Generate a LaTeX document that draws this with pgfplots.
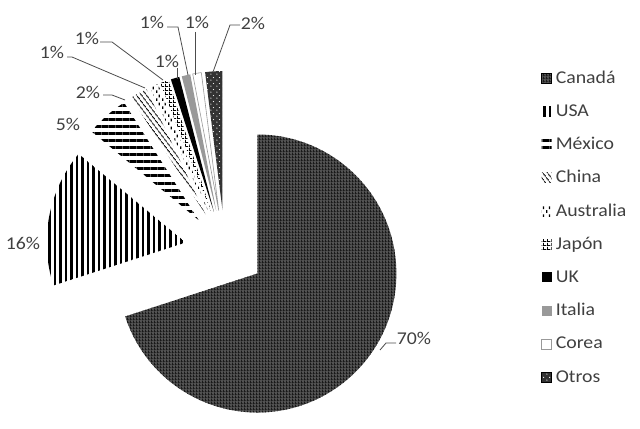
\documentclass[border=0pt]{standalone}
\usepackage{pgfplots}
\pgfplotsset{compat=1.18}
\usepackage{pgfplotstable}
\usetikzlibrary{patterns,patterns.meta}
\usepackage{fontspec}
\setmainfont{Carlito}[FakeStretch=1.1]

% share of each country, clockwise from 12 o'clock
\pgfplotstableread[col sep=comma]{
name,pct
Canada,70
USA,16
Mexico,5
China,2
Australia,1
Japon,1
UK,1
Italia,1
Corea,1
Otros,2
}\piedata

\pgfdeclarepattern{name=vdashes, type=uncolored,
  bottom left={\pgfpoint{0bp}{0bp}}, top right={\pgfpoint{6bp}{8bp}},
  tile size={\pgfpoint{6bp}{8bp}},
  code={\pgfpathrectangle{\pgfpoint{0bp}{0bp}}{\pgfpoint{1.5bp}{3bp}}
        \pgfpathrectangle{\pgfpoint{3bp}{4bp}}{\pgfpoint{1.5bp}{3bp}}
        \pgfusepath{fill}}}
\pgfdeclarepattern{name=smallgrid, type=uncolored,
  bottom left={\pgfpoint{0bp}{0bp}}, top right={\pgfpoint{3.5bp}{3.5bp}},
  tile size={\pgfpoint{3.5bp}{3.5bp}},
  code={\pgfpathrectangle{\pgfpoint{0bp}{0bp}}{\pgfpoint{3.5bp}{1bp}}
        \pgfpathrectangle{\pgfpoint{0bp}{0bp}}{\pgfpoint{1bp}{3.5bp}}
        \pgfusepath{fill}}}
\pgfdeclarepattern{name=finegrid, type=uncolored,
  bottom left={\pgfpoint{0bp}{0bp}}, top right={\pgfpoint{2.6bp}{2.6bp}},
  tile size={\pgfpoint{2.6bp}{2.6bp}},
  code={\pgfpathrectangle{\pgfpoint{0bp}{0bp}}{\pgfpoint{2.6bp}{0.7bp}}
        \pgfpathrectangle{\pgfpoint{0bp}{0bp}}{\pgfpoint{0.9bp}{2.6bp}}
        \pgfusepath{fill}}}
\pgfdeclarepattern{name=sparsedots, type=uncolored,
  bottom left={\pgfpoint{0bp}{0bp}}, top right={\pgfpoint{6bp}{6bp}},
  tile size={\pgfpoint{6bp}{6bp}},
  code={\pgfpathcircle{\pgfpoint{1bp}{1bp}}{0.7bp}
        \pgfpathcircle{\pgfpoint{4bp}{4bp}}{0.7bp}
        \pgfusepath{fill}}}

\tikzset{
  slice0/.style={fill=black!68, postaction={pattern color=black!90, pattern=finegrid}},
  slice1/.style={pattern={Lines[distance=5.5bp, line width=2.5bp, angle=90]}},
  slice2/.style={pattern={Lines[distance=7bp, line width=3bp, angle=0]}},
  slice3/.style={pattern={Lines[distance=3.6bp, line width=1bp, angle=-53]}},
  slice4/.style={pattern=vdashes},
  slice5/.style={pattern=smallgrid},
  slice6/.style={fill=black},
  slice7/.style={fill=black!40},
  slice8/.style={fill=white, postaction={draw=black!40, line width=0.6bp}},
  slice9/.style={fill=black!80, postaction={pattern color=white, pattern=sparsedots}},
  pct/.style={text=black!75, font=\fontsize{18bp}{21bp}\selectfont, inner sep=0pt},
  lead/.style={draw=black!70, line width=0.8bp},
}

\begin{document}
\begin{tikzpicture}
\begin{axis}[
    x=1bp, y=1bp,
    xmin=0, xmax=640, ymin=0, ymax=428,
    hide axis,
    clip=false,
    legend cell align=left,
    legend image code/.code={\path[#1, draw=none] (0bp,-4bp) rectangle (10bp,6bp);},
    legend style={at={(axis cs:541,358)}, anchor=north west, draw=none,
        fill=none, inner sep=0pt, row sep=15.2bp, column sep=3bp,
        font=\fontsize{18bp}{21bp}\selectfont, text=black!75,
        nodes={inner sep=1bp, text height=12bp, text depth=4bp}},
]
\addlegendimage{slice0}\addlegendentry{Canadá}
\addlegendimage{slice1}\addlegendentry{USA}
\addlegendimage{slice2}\addlegendentry{México}
\addlegendimage{slice3}\addlegendentry{China}
\addlegendimage{slice4}\addlegendentry{Australia}
\addlegendimage{slice5}\addlegendentry{Japón}
\addlegendimage{slice6}\addlegendentry{UK}
\addlegendimage{slice7}\addlegendentry{Italia}
\addlegendimage{slice8}\addlegendentry{Corea}
\addlegendimage{slice9}\addlegendentry{Otros}

% exploded pie: centre (225,178), radius 139, explosion 40
\pgfplotsextra{
  \path (axis cs:0,0) rectangle (axis cs:640,428);
  \gdef\startang{90}
  \pgfplotsforeachungrouped \i in {0,...,9}{%
    \pgfplotstablegetelem{\i}{pct}\of\piedata
    \pgfmathsetmacro\sweep{3.6*\pgfplotsretval}
    \pgfmathsetmacro\endang{\startang-\sweep}
    \pgfmathsetmacro\midang{\startang-\sweep/2}
    \pgfmathsetmacro\vx{225+40*cos(\midang)}
    \pgfmathsetmacro\vy{178+40*sin(\midang)}
    \edef\doslice{\noexpand\path[slice\i] (axis cs:\vx,\vy)
      -- ++(\startang:139bp)
      arc[start angle=\startang, end angle=\endang, radius=139bp] -- cycle;}
    \doslice
    \xdef\startang{\endang}
  }
  % percentage labels and leader lines
  \node[pct] at (axis cs:414,90) {70\%};
  \draw[lead] (axis cs:396,85) -- (axis cs:386,85) -- (axis cs:380,78);
  \node[pct] at (axis cs:23,185) {16\%};
  \node[pct] at (axis cs:68,304) {5\%};
  \node[pct] at (axis cs:88,336) {2\%};
  \draw[lead] (axis cs:103,333) -- (axis cs:112,333) -- (axis cs:125,328);
  \node[pct] at (axis cs:52,376) {1\%};
  \draw[lead] (axis cs:67,371) -- (axis cs:72,371) -- (axis cs:145,340);
  \node[pct] at (axis cs:87,390) {1\%};
  \draw[lead] (axis cs:100,386) -- (axis cs:112,386) -- (axis cs:163,348);
  \node[pct] at (axis cs:167,367) {1\%};
  \draw[lead] (axis cs:177,360) -- (axis cs:177,349);
  \node[pct] at (axis cs:152,406) {1\%};
  \draw[lead] (axis cs:167,401) -- (axis cs:178,401) -- (axis cs:188,353);
  \node[pct] at (axis cs:197,406) {1\%};
  \draw[lead] (axis cs:195,396) -- (axis cs:195,353);
  \node[pct] at (axis cs:253,405) {2\%};
  \draw[lead] (axis cs:240,403) -- (axis cs:230,403) -- (axis cs:213,356);
}
\end{axis}
\end{tikzpicture}
\end{document}
